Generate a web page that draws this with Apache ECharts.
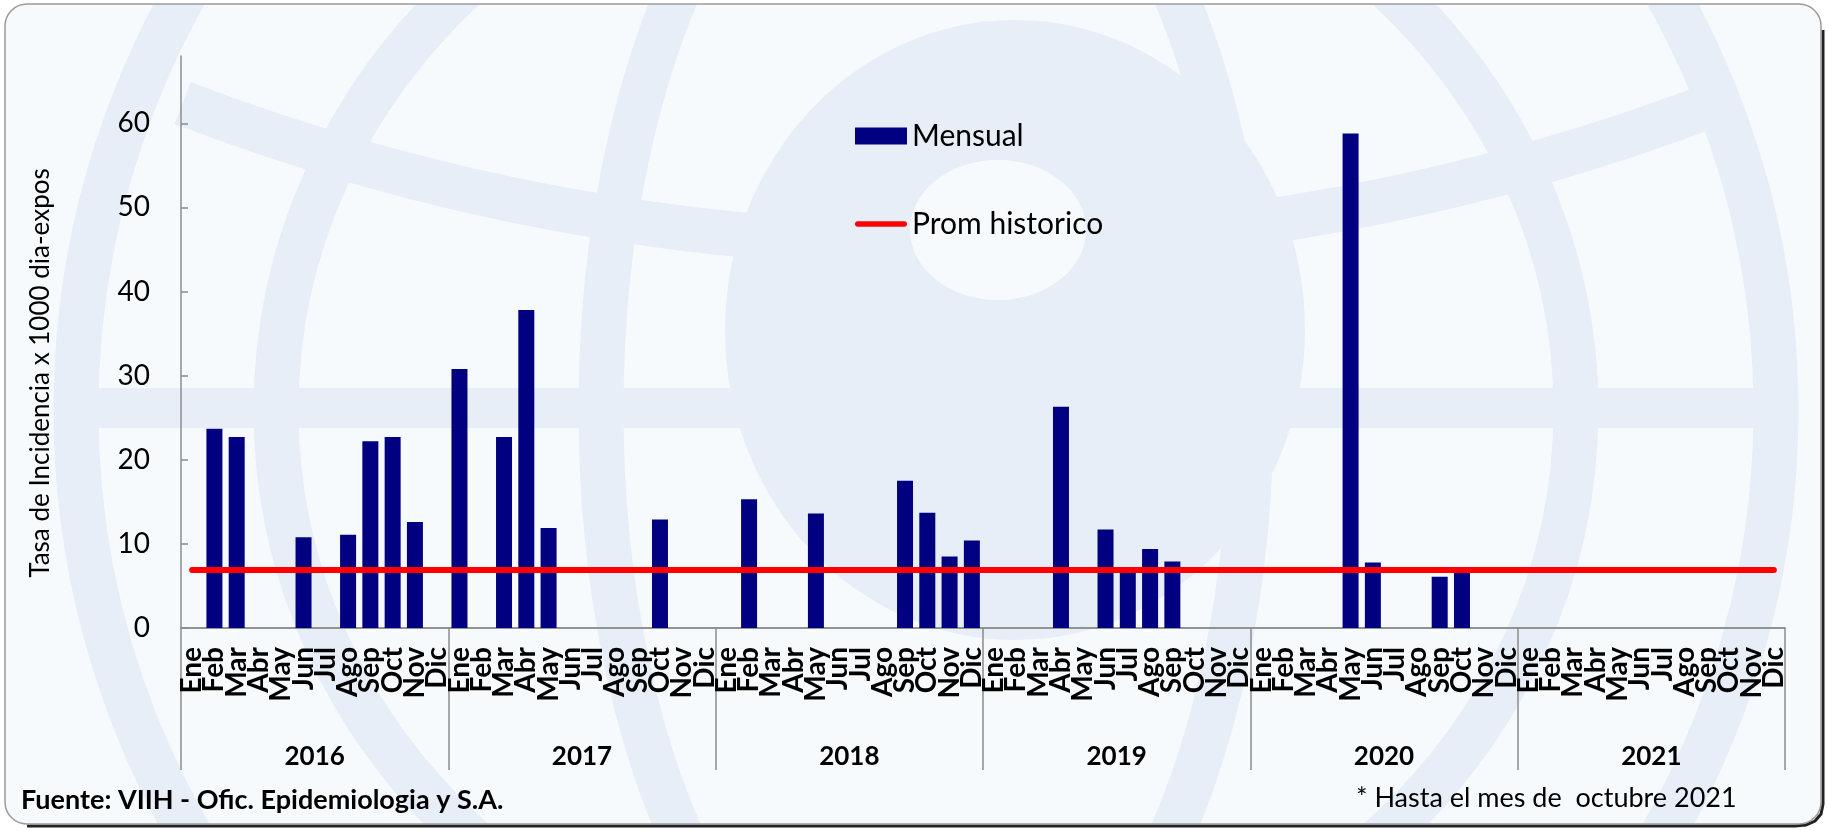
<!DOCTYPE html>
<html>
<head>
<meta charset="utf-8">
<script src="https://cdn.jsdelivr.net/npm/echarts@6/dist/echarts.min.js"></script>
<style>
html,body{margin:0;padding:0;background:#fff;}
#chart{width:1829px;height:831px;}
</style>
</head>
<body>
<div id="chart"></div>
<script>
const months = ['Ene','Feb','Mar','Abr','May','Jun','Jul','Ago','Sep','Oct','Nov','Dic'];
const years = ['2016','2017','2018','2019','2020','2021'];
const yTicks = [0, 10, 20, 30, 40, 50, 60];
const mensual2016 = [null, 23.7, 22.7, null, null, 10.8, null, 11.1, 22.2, 22.7, 12.6, null];
const mensual2017 = [30.8, null, 22.7, 37.8, 11.9, null, null, null, null, 12.9, null, null];
const mensual2018 = [null, 15.3, null, null, 13.6, null, null, null, 17.5, 13.7, 8.5, 10.4];
const mensual2019 = [null, null, null, 26.3, null, 11.7, 6.7, 9.4, 7.9, null, null, null];
const mensual2020 = [null, null, null, null, 58.8, 7.8, null, null, 6.1, 6.7, null, null];
const mensual2021 = [null, null, null, null, null, null, null, null, null, null, null, null];
const promHistorico = 6.9;

const categories = [];
years.forEach(() => months.forEach(m => categories.push(m)));
const mensual = [].concat(mensual2016, mensual2017, mensual2018, mensual2019, mensual2020, mensual2021);
const promData = categories.map(() => promHistorico);

const FONT = 'Lato, "Open Sans", sans-serif';
const BG = '#f7fafd';
const WM = '#e8eef7';
const chart = echarts.init(document.getElementById('chart'));

const watermark = [
  { type: 'rect', z: -90, shape: { x: 60, y: 388, width: 1730, height: 40 }, style: { fill: WM } },
  { type: 'ellipse', z: -90, shape: { cx: 1015, cy: 330, rx: 290, ry: 310 }, style: { fill: WM } },
  { type: 'circle', z: -90, shape: { cx: 926, cy: 410, r: 850 }, style: { fill: null, stroke: WM, lineWidth: 45 } },
  { type: 'ellipse', z: -90, shape: { cx: 926, cy: 410, rx: 650, ry: 600 }, style: { fill: null, stroke: WM, lineWidth: 45 } },
  { type: 'ellipse', z: -90, shape: { cx: 926, cy: 410, rx: 325, ry: 648 }, style: { fill: null, stroke: WM, lineWidth: 45 } },
  { type: 'arc', z: -90, shape: { cx: 950, cy: -1898, r: 2143, startAngle: 1.204, endAngle: 1.937, clockwise: true }, style: { fill: null, stroke: WM, lineWidth: 45 } },
  { type: 'ellipse', z: -89, shape: { cx: 998, cy: 230, rx: 88, ry: 70 }, style: { fill: BG } }
];

chart.setOption({
  backgroundColor: '#ffffff',
  animation: false,
  textStyle: { fontFamily: FONT },
  grid: { left: 181, right: 44, top: 56, bottom: 203, containLabel: false },
  legend: {
    orient: 'vertical',
    left: 850,
    top: 116,
    itemWidth: 52,
    itemHeight: 17,
    itemGap: 58,
    textStyle: { fontSize: 30, color: '#000', fontFamily: FONT },
    data: [
      { name: 'Mensual', icon: 'rect' },
      { name: 'Prom historico', icon: 'path://M3,0 L53,0 A3,3 0 0 1 53,6 L3,6 A3,3 0 0 1 3,0 Z' }
    ]
  },
  xAxis: [
    {
      type: 'category',
      data: categories,
      position: 'bottom',
      axisLine: { show: true, lineStyle: { color: '#8c8c8c', width: 1.5 } },
      axisTick: { show: false },
      axisLabel: {
        interval: 0,
        rotate: 90,
        margin: 19,
        color: '#000',
        fontWeight: 'bold',
        fontSize: 28,
        fontFamily: FONT
      }
    },
    {
      type: 'category',
      data: years,
      position: 'bottom',
      offset: 0,
      axisLine: { show: true, lineStyle: { color: '#8c8c8c', width: 1.5 } },
      axisTick: { show: true, interval: 0, length: 142, lineStyle: { color: '#8c8c8c', width: 1.5 } },
      axisLabel: {
        interval: 0,
        margin: 116,
        color: '#000',
        fontWeight: 'bold',
        fontSize: 26,
        fontFamily: FONT
      }
    }
  ],
  yAxis: {
    type: 'value',
    min: 0,
    max: 68,
    interval: 10,
    axisLine: { show: true, lineStyle: { color: '#8c8c8c', width: 1.5 } },
    axisTick: { show: true, inside: true, length: 7, customValues: yTicks, lineStyle: { color: '#8c8c8c', width: 1.5 } },
    axisLabel: { customValues: yTicks, margin: 31, fontSize: 28, color: '#000', fontFamily: FONT },
    splitLine: { show: false }
  },
  series: [
    {
      name: 'Mensual',
      type: 'bar',
      xAxisIndex: 0,
      data: mensual,
      barWidth: 16,
      itemStyle: { color: '#000080' },
      z: 2
    },
    {
      name: 'Prom historico',
      type: 'line',
      xAxisIndex: 0,
      data: promData,
      symbol: 'none',
      lineStyle: { color: '#ff0000', width: 6, cap: 'round' },
      itemStyle: { color: '#ff0000' },
      z: 3
    }
  ],
  graphic: [
    { type: 'rect', z: -100, shape: { x: 5, y: 4, width: 1816, height: 820, r: 22 }, style: { fill: BG } }
  ].concat(watermark).concat([
    { type: 'rect', z: -85, shape: { x: 0, y: 0, width: 1829, height: 4 }, style: { fill: '#fff' } },
    { type: 'rect', z: -85, shape: { x: 0, y: 824, width: 1829, height: 7 }, style: { fill: '#fff' } },
    { type: 'rect', z: -85, shape: { x: 0, y: 0, width: 5, height: 831 }, style: { fill: '#fff' } },
    { type: 'rect', z: -85, shape: { x: 1821, y: 0, width: 8, height: 831 }, style: { fill: '#fff' } },
    { type: 'polyline', z: -80, shape: { points: [[1823, 30], [1823, 804], [1821, 814], [1815, 821], [1806, 825], [1795, 826], [27, 826]] }, style: { fill: null, stroke: '#222', lineWidth: 3 } },
    { type: 'rect', z: -75, shape: { x: 5, y: 4, width: 1816, height: 820, r: 22 }, style: { fill: null, stroke: '#9a9a9a', lineWidth: 1.5 } },
    {
      type: 'text', z: 100, x: 41, y: 373, rotation: Math.PI / 2,
      style: { text: 'Tasa de Incidencia x 1000 dia-expos', fontSize: 26, fontFamily: FONT, fill: '#000', align: 'center', verticalAlign: 'middle' }
    },
    {
      type: 'text', z: 100, x: 21, y: 800,
      style: { text: 'Fuente: VIIH - Ofic. Epidemiologia y S.A.', fontSize: 27, fontWeight: 'bold', fontFamily: FONT, fill: '#000', align: 'left', verticalAlign: 'middle' }
    },
    {
      type: 'text', z: 100, x: 1356, y: 798,
      style: { text: '* Hasta el mes de  octubre 2021', fontSize: 27, fontFamily: FONT, fill: '#000', align: 'left', verticalAlign: 'middle' }
    }
  ])
});
</script>
</body>
</html>
